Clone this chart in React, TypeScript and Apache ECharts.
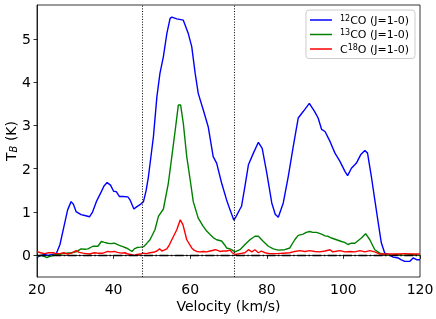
import React, { useEffect, useRef } from "react";
import * as echarts from "echarts";

const co12Velocity = [20, 21, 22, 23, 24, 25, 26, 27, 28, 28.9, 29.5, 30.2, 31.5, 32.5, 33.7, 34.5, 35.5, 36.8, 37.5, 38.3, 39.2, 40.0, 40.7, 41.5, 42.4, 43.7, 44.3, 45.3, 46.0, 46.9, 47.8, 48.5, 49.1, 50.4, 51.3, 52.1, 53.0, 53.9, 54.75, 55.2, 56.5, 58.2, 59.5, 60.4, 61.3, 62.1, 63.4, 64.7, 66.0, 66.9, 68.2, 69.5, 70.4, 71.4, 72.0, 73.0, 73.4, 74.3, 75.2, 76.5, 77.8, 78.8, 80.0, 81.3, 82.2, 83.0, 84.3, 85.6, 86.9, 88.2, 89.5, 91.1, 92.5, 93.4, 94.3, 95.2, 96.5, 97.8, 99.1, 100.4, 101.1, 102.1, 103.4, 104.5, 105.6, 106.3, 107.3, 108.2, 109.1, 109.9, 110.8, 111.7, 113, 114.3, 115, 116, 117.3, 118.2, 119.1, 120];
const co12Tb = [-0.05, 0.0, 0.02, 0.0, 0.02, 0.03, 0.25, 0.65, 1.05, 1.24, 1.18, 1.01, 0.94, 0.92, 0.89, 1.0, 1.24, 1.47, 1.6, 1.68, 1.62, 1.48, 1.47, 1.36, 1.36, 1.35, 1.28, 1.07, 1.12, 1.17, 1.24, 1.5, 1.82, 2.74, 3.66, 4.2, 4.59, 5.12, 5.47, 5.5, 5.46, 5.43, 5.12, 4.82, 4.2, 3.74, 3.36, 2.97, 2.28, 2.13, 1.67, 1.28, 1.05, 0.81, 0.9, 1.07, 1.13, 1.6, 2.09, 2.36, 2.61, 2.47, 1.9, 1.21, 0.95, 0.88, 1.21, 1.82, 2.51, 3.17, 3.32, 3.51, 3.32, 3.17, 2.91, 2.86, 2.63, 2.36, 2.17, 1.94, 1.84, 2.01, 2.13, 2.32, 2.42, 2.36, 1.82, 1.28, 0.75, 0.29, 0.05, 0.02, -0.04, -0.06, -0.1, -0.14, -0.14, -0.06, -0.1, -0.1];

const co13Velocity = [20, 21, 22, 22.6, 23.5, 25, 26.3, 27.6, 29, 30.2, 31.5, 32.5, 33.3, 34.6, 35.9, 36.8, 37.6, 38.5, 39.3, 40.2, 41.5, 42.4, 43.3, 44.1, 44.8, 45.4, 46.1, 47.0, 47.8, 48.6, 49.5, 50.8, 51.7, 53.0, 54.3, 55.2, 56.1, 56.9, 57.5, 58.2, 59.1, 60.0, 60.8, 62.1, 63.4, 64.3, 65.2, 66.0, 66.9, 68.2, 69.0, 69.5, 70.4, 71.0, 71.7, 73, 74.3, 75.6, 76.9, 77.8, 79.1, 80.4, 81.7, 83, 84.7, 86, 87.3, 88.2, 89.5, 90.3, 91.2, 92.0, 93, 94.3, 95.2, 96.0, 96.9, 98.2, 99.5, 100.3, 101.2, 102.1, 103, 104.7, 105.8, 106.9, 108.2, 109.5, 110.8, 112.5, 114, 116, 118, 120];
const co13Tb = [-0.02, 0.0, -0.03, -0.05, -0.02, 0.02, 0.03, 0.05, 0.06, 0.08, 0.15, 0.14, 0.15, 0.21, 0.21, 0.32, 0.3, 0.28, 0.27, 0.28, 0.23, 0.2, 0.17, 0.13, 0.09, 0.15, 0.18, 0.19, 0.2, 0.27, 0.36, 0.59, 0.9, 1.07, 1.67, 2.28, 2.9, 3.47, 3.47, 3.05, 2.28, 1.74, 1.24, 0.86, 0.67, 0.56, 0.48, 0.41, 0.36, 0.33, 0.24, 0.17, 0.15, 0.12, 0.08, 0.13, 0.25, 0.36, 0.44, 0.44, 0.32, 0.21, 0.15, 0.12, 0.13, 0.17, 0.36, 0.46, 0.49, 0.53, 0.55, 0.53, 0.53, 0.49, 0.45, 0.44, 0.4, 0.36, 0.32, 0.3, 0.25, 0.28, 0.28, 0.4, 0.5, 0.36, 0.13, 0.05, 0.02, 0.0, 0.02, 0.0, 0.02, 0.0];

const c18oVelocity = [20, 20.9, 22, 23, 24.3, 25, 26, 27, 27.9, 29, 29.6, 30.2, 31, 32, 33, 33.7, 35, 35.9, 37.2, 38.5, 39.3, 40.2, 41, 42, 43, 43.7, 44.5, 45.4, 46.1, 47, 47.7, 48.5, 49.5, 50.4, 51.3, 52, 52.6, 53.2, 53.9, 54.6, 55.2, 56.5, 57.4, 58.1, 59.1, 60.4, 61.0, 61.7, 62.5, 63.4, 64.3, 65.2, 66.6, 67.8, 68.6, 69.5, 70.4, 71.0, 71.7, 73, 74.3, 75.2, 76.1, 76.9, 77.8, 78.6, 79.5, 80.8, 82.6, 84.3, 86, 87.3, 88.6, 89.9, 91.2, 92.5, 93.8, 95.2, 96.5, 97.2, 97.8, 99.1, 100.4, 101.7, 103, 104.3, 105.6, 106.9, 108.2, 109.5, 110.8, 112.5, 114.3, 116, 117.8, 120];
const c18oTb = [0.09, 0.06, 0.04, 0.06, 0.06, 0.04, 0.04, 0.06, 0.03, 0.05, 0.08, 0.11, 0.07, 0.05, 0.04, 0.03, 0.06, 0.05, 0.05, 0.09, 0.08, 0.09, 0.07, 0.05, 0.06, 0.03, 0.02, 0.0, 0.02, 0.03, 0.05, 0.04, 0.06, 0.07, 0.1, 0.15, 0.1, 0.12, 0.15, 0.25, 0.36, 0.59, 0.82, 0.71, 0.36, 0.17, 0.12, 0.09, 0.08, 0.09, 0.08, 0.1, 0.13, 0.09, 0.1, 0.1, 0.12, 0.06, 0.02, 0.04, 0.06, 0.13, 0.08, 0.13, 0.06, 0.1, 0.06, 0.04, 0.04, 0.05, 0.06, 0.09, 0.11, 0.09, 0.11, 0.09, 0.08, 0.1, 0.13, 0.08, 0.09, 0.11, 0.08, 0.09, 0.08, 0.11, 0.08, 0.11, 0.08, 0.03, 0.03, 0.03, 0.03, 0.04, 0.03, 0.03];

const seriesNames = ["12CO", "13CO", "C18O"];
const legendLabels = ["{s|12}CO (J=1-0)", "{s|13}CO (J=1-0)", "C{s|18}O (J=1-0)"];
const verticalMarkers = [47.5, 71.4];
const yTicks = [0, 1, 2, 3, 4, 5];

const FONT = "DejaVu Sans";

function pairs(xs: number[], ys: number[]) {
  return xs.map((x, i) => [x, ys[i]]);
}

export default function App() {
  const ref = useRef<HTMLDivElement>(null);
  useEffect(() => {
    if (!ref.current) return;
    const chart = echarts.init(ref.current, undefined, { renderer: "svg" });
    const lineW = 1.4;
    const option: any = {
      animation: false,
      textStyle: { fontFamily: FONT },
      grid: {
        left: 37,
        right: 16,
        top: 5,
        bottom: 42,
        containLabel: false,
        outerBoundsMode: "none",
        show: true,
        borderColor: "#000",
        borderWidth: 0.8,
        backgroundColor: "transparent",
      },
      legend: {
        orient: "vertical",
        right: 21,
        top: 10,
        padding: [4, 6, 4, 4],
        itemGap: 3,
        itemWidth: 22,
        itemHeight: 1.5,
        icon: "rect",
        backgroundColor: "rgba(255,255,255,0.8)",
        borderColor: "#ccc",
        borderWidth: 1,
        borderRadius: 3,
        data: seriesNames,
        formatter: (name: string) => legendLabels[seriesNames.indexOf(name)],
        textStyle: {
          fontFamily: FONT,
          fontSize: 11,
          color: "#000",
          padding: [0, 0, 0, 3],
          rich: {
            s: { fontFamily: FONT, fontSize: 8, verticalAlign: "top", color: "#000", padding: [0, 0, 4, 0] },
          },
        },
      },
      xAxis: {
        type: "value",
        min: 20,
        max: 120,
        interval: 20,
        name: "Velocity (km/s)",
        nameLocation: "middle",
        nameGap: 22,
        nameMoveOverlap: false,
        nameTextStyle: { fontFamily: FONT, fontSize: 14, color: "#000" },
        axisLine: { show: true, lineStyle: { color: "#000", width: 0.8 } },
        axisTick: { show: true, length: 3.5, lineStyle: { color: "#000", width: 0.8 } },
        axisLabel: { fontFamily: FONT, fontSize: 14, color: "#000", margin: 5 },
        splitLine: { show: false },
      },
      yAxis: {
        type: "value",
        min: -0.5,
        max: 5.78,
        name: "{a|T}{b|B}{a| (K)}",
        nameLocation: "middle",
        nameGap: 19,
        nameMoveOverlap: false,
        nameTextStyle: {
          fontFamily: FONT,
          fontSize: 14,
          color: "#000",
          rich: {
            a: { fontFamily: FONT, fontSize: 14, color: "#000" },
            b: { fontFamily: FONT, fontSize: 10, fontStyle: "italic", color: "#000", verticalAlign: "bottom" },
          },
        },
        axisLine: { show: true, lineStyle: { color: "#000", width: 0.8 } },
        axisTick: { show: true, length: 3.5, customValues: yTicks, lineStyle: { color: "#000", width: 0.8 } },
        axisLabel: { fontFamily: FONT, fontSize: 14, color: "#000", margin: 6, customValues: yTicks },
        splitLine: { show: false },
      },
      series: [
        {
          name: seriesNames[0],
          type: "line",
          data: pairs(co12Velocity, co12Tb),
          showSymbol: false,
          symbol: "none",
          color: "#0000ff",
          lineStyle: { color: "#0000ff", width: lineW },
        },
        {
          name: seriesNames[1],
          type: "line",
          data: pairs(co13Velocity, co13Tb),
          showSymbol: false,
          symbol: "none",
          color: "#008000",
          lineStyle: { color: "#008000", width: lineW },
        },
        {
          name: seriesNames[2],
          type: "line",
          data: pairs(c18oVelocity, c18oTb),
          showSymbol: false,
          symbol: "none",
          color: "#ff0000",
          lineStyle: { color: "#ff0000", width: lineW },
          markLine: {
            silent: true,
            symbol: ["none", "none"],
            label: { show: false },
            data: [
              ...verticalMarkers.map((v) => ({
                xAxis: v,
                lineStyle: { color: "#000", width: 1, type: [1, 1.65] },
              })),
              { yAxis: 0, lineStyle: { color: "#000", width: 1.3, type: [9, 2.4, 1.5, 2.4] } },
            ],
          },
        },
      ],
    };
    chart.setOption(option);
    return () => chart.dispose();
  }, []);
  return (
    <div
      ref={ref}
      style={{ position: "fixed", left: 0, top: 0, width: 436, height: 319 }}
    />
  );
}
